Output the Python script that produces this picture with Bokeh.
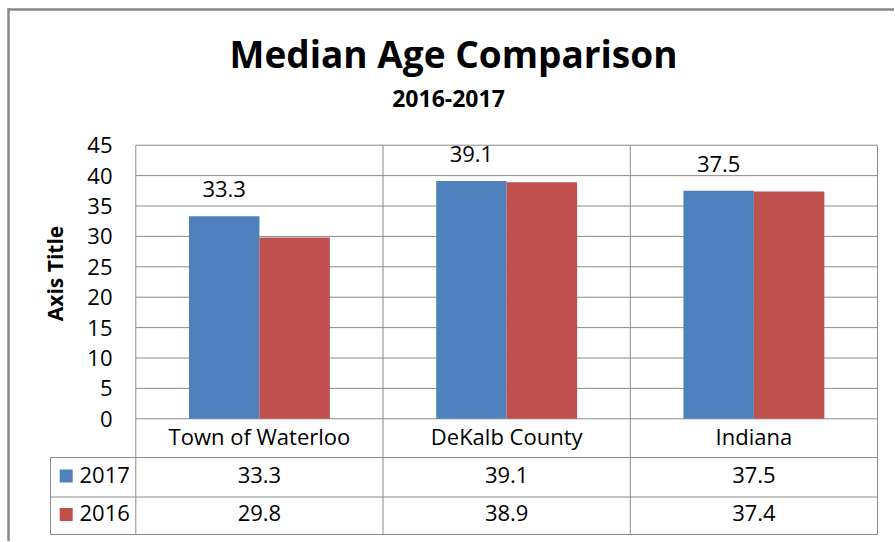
import math
from bokeh.plotting import figure
from bokeh.models import ColumnDataSource, Range1d, FixedTicker
from bokeh.core.properties import value
from bokeh.embed import file_html
from bokeh.resources import INLINE

# ---- data ----
categories = ["Town of Waterloo", "DeKalb County", "Indiana"]
series_names = ["2017", "2016"]
values_2017 = [33.3, 39.1, 37.5]
values_2016 = [29.8, 38.9, 37.4]
y_ticks = [0, 5, 10, 15, 20, 25, 30, 35, 40, 45]
title_text = "Median Age Comparison"
subtitle_text = "2016-2017"
y_axis_title = "Axis Title"

# ---- style ----
FONT = "Open Sans"
BLUE = "#4F81BD"
RED = "#C0504D"
GRID = "#8c8c8c"
BORDER = "#878787"
TEXT = "#000000"
FS = "22px"
BW = 0.285          # bar width in category units

# ---- layout (pixels) ----
W, H = 894, 541
F_L, F_R, F_T, F_B = 5, 894, 5, 541      # frame edges
PLOT_L, PLOT_R = 135.3, 877.0            # plot area (x = 0 .. n)
PLOT_T, PLOT_B = 144.7, 418.3            # plot area (y = 45 .. 0)
n = len(categories)
ymax = max(y_ticks)
PX = (PLOT_R - PLOT_L) / n
PY = (PLOT_B - PLOT_T) / ymax


def X(px):
    return (px - PLOT_L) / PX


def Y(py):
    return (PLOT_B - py) / PY


p = figure(x_range=Range1d(X(F_L), X(F_R)), y_range=Range1d(Y(F_B), Y(F_T)),
           width=W, height=H, output_backend="svg", toolbar_location=None,
           title=None, x_axis_location=None,
           min_border_left=F_L, min_border_right=W - F_R, min_border_top=F_T,
           min_border_bottom=H - F_B)
p.grid.visible = False
p.outline_line_color = None

# y axis (labels sit inside the left margin of the chart)
ax = p.yaxis[0]
ax.ticker = FixedTicker(ticks=y_ticks)
ax.axis_line_color = None
ax.major_tick_line_color = None
ax.minor_tick_line_color = None
ax.major_tick_out = 0
ax.major_tick_in = 0
ax.major_label_standoff = int(F_L - 112)
ax.major_label_text_font = FONT
ax.major_label_text_font_size = FS
ax.major_label_text_color = TEXT
ax.axis_label = y_axis_title
ax.axis_label_text_font = FONT
ax.axis_label_text_font_style = "bold"
ax.axis_label_text_font_size = "21px"
ax.axis_label_text_color = TEXT
ax.axis_label_standoff = 15

# outer chart border
p.segment(x0=[X(7), X(8)], y0=[Y(9), Y(8)], x1=[X(F_R), X(8)], y1=[Y(9), Y(F_B)],
          line_color=BORDER, line_width=2.5)

# horizontal gridlines
p.segment(x0=[0] * len(y_ticks), y0=y_ticks, x1=[n] * len(y_ticks), y1=y_ticks,
          line_color=GRID, line_width=1)

# data table geometry
ROW_CAT_B, ROW1_B, ROW2_B = Y(457), Y(496.5), Y(534)
LEG_X = X(50)
vx = list(range(0, n + 1))
p.segment(x0=vx, y0=[ymax] * len(vx), x1=vx, y1=[ROW2_B] * len(vx), line_color=GRID, line_width=1)
p.segment(x0=[LEG_X], y0=[ROW_CAT_B], x1=[LEG_X], y1=[ROW2_B], line_color=GRID, line_width=1)
p.segment(x0=[LEG_X] * 3, y0=[ROW_CAT_B, ROW1_B, ROW2_B], x1=[n] * 3,
          y1=[ROW_CAT_B, ROW1_B, ROW2_B], line_color=GRID, line_width=1)

# bars
centers = [i + 0.5 for i in range(n)]
src = ColumnDataSource(dict(
    x17=[c - BW / 2 for c in centers],
    x16=[c + BW / 2 for c in centers],
    v2017=values_2017,
    v2016=values_2016,
    l2017=[f"{v:.1f}" for v in values_2017],
))
p.vbar(x="x17", top="v2017", width=BW, source=src, fill_color=BLUE, line_color=None)
p.vbar(x="x16", top="v2016", width=BW, source=src, fill_color=RED, line_color=None)

# data labels (2017 series)
p.text(x="x17", y="v2017", text="l2017", source=src, text_align="center",
       text_baseline="middle", y_offset=-27,
       text_font=value(FONT), text_font_size=FS, text_color=TEXT)

# titles
p.text(x=[X(453)], y=[Y(53)], text=[title_text], text_align="center", text_baseline="middle",
       text_font=value(FONT), text_font_size="37px", text_font_style="bold", text_color=TEXT)
p.text(x=[X(448)], y=[Y(97.5)], text=[subtitle_text], text_align="center", text_baseline="middle",
       text_font=value(FONT), text_font_size="23px", text_font_style="bold", text_color=TEXT)

# table texts
tsrc = ColumnDataSource(dict(
    x=centers * 3,
    y=[Y(435.5)] * n + [Y(474)] * n + [Y(512.5)] * n,
    txt=categories + [f"{v:.1f}" for v in values_2017] + [f"{v:.1f}" for v in values_2016],
))
p.text(x="x", y="y", text="txt", source=tsrc, text_align="center", text_baseline="middle",
       text_font=value(FONT), text_font_size=FS, text_color=TEXT)

# legend keys in the table
lsrc = ColumnDataSource(dict(y=[Y(474), Y(512.5)], ky=[Y(475.5), Y(514)],
                             name=series_names, color=[BLUE, RED]))
p.rect(x=X(65.7), y="ky", width=13, height=13, width_units="screen", height_units="screen",
       fill_color="color", line_color=None, source=lsrc)
p.text(x=X(79), y="y", text="name", source=lsrc, text_align="left", text_baseline="middle",
       text_font=value(FONT), text_font_size=FS, text_color=TEXT)

open("out.html", "w").write(file_html(p, INLINE))
